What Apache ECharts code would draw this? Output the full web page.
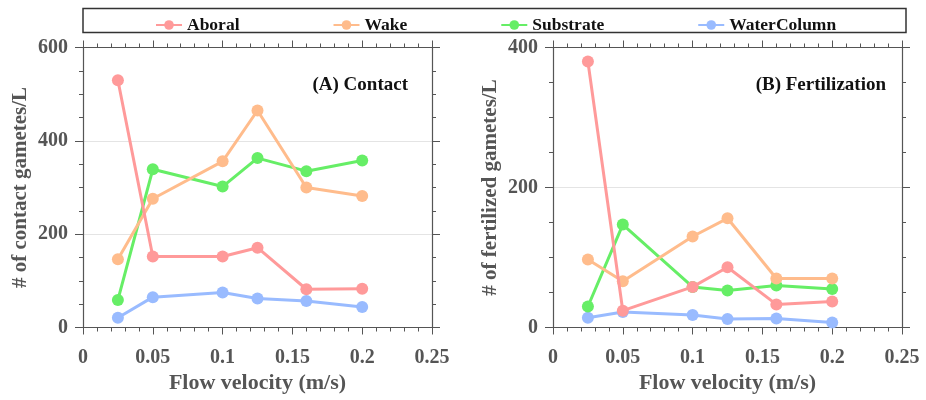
<!DOCTYPE html>
<html>
<head>
<meta charset="utf-8">
<script src="https://cdn.jsdelivr.net/npm/echarts@6/dist/echarts.min.js"></script>
<style>html,body{margin:0;padding:0;background:#fff}#c{width:926px;height:400px}</style>
</head>
<body>
<div id="c"></div>
<script>
var velocity = [0.025, 0.05, 0.1, 0.125, 0.16, 0.2];
var seriesNames = ['Aboral', 'Wake', 'Substrate', 'WaterColumn'];
var colors = ['#FF9A9A', '#FFBC8C', '#66EE66', '#99BBFF'];
var contactAboral = [530, 152, 152, 171, 82, 83];
var contactWake = [146, 276, 356, 465, 300, 282];
var contactSubstrate = [59, 339, 302, 363, 335, 358];
var contactWaterColumn = [21, 65, 75, 62, 57, 44];
var fertAboral = [380, 24, 58, 86, 33, 37];
var fertWake = [97, 66, 130, 156, 70, 70];
var fertSubstrate = [30, 147, 58, 53, 60, 55];
var fertWaterColumn = [14, 22, 18, 12, 13, 7];
var xTicks = [0, 0.05, 0.1, 0.15, 0.2, 0.25];
var panelTitles = ['(A) Contact', '(B) Fertilization'];
var yNames = ['# of contact gametes/L', '# of fertilized gametes/L'];
var xName = 'Flow velocity (m/s)';

var FONT = '"Liberation Serif", "Times New Roman", serif';
var AX = '#555';
var chart = echarts.init(document.getElementById('c'));

function pairs(vals) { return velocity.map(function (v, i) { return [v, vals[i]]; }); }

var contactSets = [contactAboral, contactWake, contactSubstrate, contactWaterColumn];
var fertSets = [fertAboral, fertWake, fertSubstrate, fertWaterColumn];

function mkX(gi, top) {
  return {
    type: 'value', gridIndex: gi, min: 0, max: 0.25, interval: 0.05,
    position: top ? 'top' : 'bottom',
    name: top ? '' : xName, nameLocation: 'middle', nameGap: 44,
    nameTextStyle: { fontFamily: FONT, fontWeight: 'bold', fontSize: 22, color: AX },
    axisLine: { show: true, onZero: false, lineStyle: { color: AX, width: 1.2 } },
    axisTick: { show: true, inside: false, length: 7, lineStyle: { color: AX } },
    minorTick: { show: true, splitNumber: 5, length: 4, lineStyle: { color: AX } },
    axisLabel: { show: !top, margin: 20, fontFamily: FONT, fontWeight: 'bold', fontSize: 20, color: AX,
      formatter: function (v) { return String(Math.round(v * 1000) / 1000); } },
    splitLine: { show: false }
  };
}
function mkY(gi, right, max) {
  return {
    type: 'value', gridIndex: gi, min: 0, max: max, interval: 200,
    position: right ? 'right' : 'left',
    name: right ? '' : yNames[gi], nameLocation: 'middle', nameGap: 52,
    nameTextStyle: { fontFamily: FONT, fontWeight: 'bold', fontSize: 21, color: AX },
    axisLine: { show: true, onZero: false, lineStyle: { color: AX, width: 1.2 } },
    axisTick: { show: true, inside: false, length: 8, lineStyle: { color: AX } },
    minorTick: { show: true, splitNumber: 4, length: 4, lineStyle: { color: AX } },
    axisLabel: { show: !right, margin: 15, fontFamily: FONT, fontWeight: 'bold', fontSize: 20, color: AX },
    splitLine: { show: !right, lineStyle: { color: '#e4e4e4', width: 1 } }
  };
}

var series = [];
[contactSets, fertSets].forEach(function (sets, gi) {
  sets.forEach(function (vals, si) {
    series.push({
      type: 'line', name: seriesNames[si], xAxisIndex: gi * 2, yAxisIndex: gi * 2,
      data: pairs(vals), symbol: 'circle', symbolSize: 12,
      lineStyle: { width: 3, color: colors[si] },
      itemStyle: { color: colors[si] },
      z: 10 - si
    });
  });
});

chart.setOption({
  animation: false,
  backgroundColor: '#fff',
  color: colors,
  grid: [
    { left: 83, top: 47.5, width: 349, height: 280 },
    { left: 553, top: 47.5, width: 349, height: 280 }
  ],
  xAxis: [mkX(0, false), mkX(0, true), mkX(1, false), mkX(1, true)],
  yAxis: [mkY(0, false, 600), mkY(0, true, 600), mkY(1, false, 400), mkY(1, true, 400)],
  title: [
    { text: panelTitles[0], right: 518, top: 76, padding: 0, textStyle: { fontFamily: FONT, fontWeight: 'bold', fontSize: 19, color: '#111' } },
    { text: panelTitles[1], right: 40, top: 76, padding: 0, textStyle: { fontFamily: FONT, fontWeight: 'bold', fontSize: 19, color: '#111' } }
  ],
  legend: {
    data: seriesNames, left: 150, top: 11, itemGap: 93, itemWidth: 26, itemHeight: 12,
    textStyle: { fontFamily: FONT, fontWeight: 'bold', fontSize: 17.5, color: '#111' }
  },
  graphic: [{
    type: 'rect', shape: { x: 83, y: 8.5, width: 823, height: 24 },
    style: { fill: 'none', stroke: '#333', lineWidth: 1.5 }, z: 100
  }],
  series: series
});
</script>
</body>
</html>
